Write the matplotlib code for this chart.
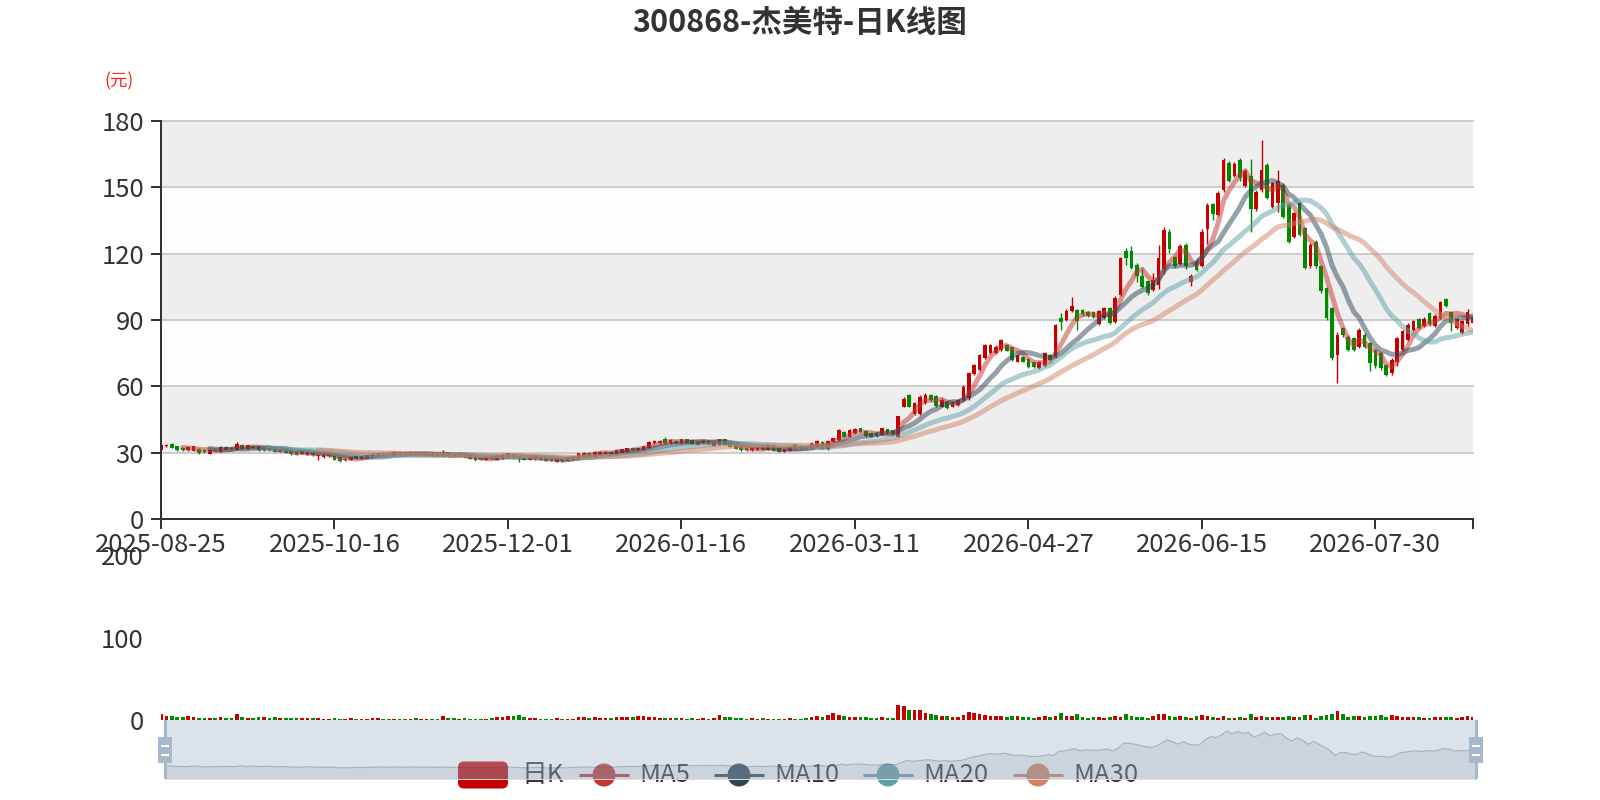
#日K线图: 蜡烛图 + 均线 + 成交量 + 底部缩放条
import matplotlib
matplotlib.use("Agg")
import matplotlib.pyplot as plt
from matplotlib.patches import FancyBboxPatch, Rectangle, Circle
import numpy as np
import pandas as pd

plt.rcParams['font.family'] = ['Noto Sans CJK SC', 'DejaVu Sans']

title = '300868-杰美特-日K线图'
y_name = '(元)'

#休市日 (用来生成交易日序列)
holidays = ['2025-10-01', '2025-10-02', '2025-10-03', '2025-10-06', '2025-10-07',
            '2025-10-08', '2026-01-01', '2026-01-02', '2026-02-16', '2026-02-17',
            '2026-02-18', '2026-02-19', '2026-02-20', '2026-02-23', '2026-04-06',
            '2026-05-01', '2026-05-04', '2026-05-05', '2026-06-19']

opens = [31.4, 33.0, 33.9, 33.0, 32.1, 31.1, 30.8, 31.8, 31.4, 29.5,
         31.4, 30.3, 32.6, 32.3, 31.4, 33.6, 31.8, 33.0, 33.0, 31.1,
         32.1, 31.8, 30.3, 31.4, 30.9, 30.3, 29.5, 29.1, 29.8, 28.3,
         28.0, 28.3, 28.5, 28.0, 26.5, 26.8, 28.3, 27.3, 27.7, 28.3,
         28.8, 29.8, 29.8, 28.8, 30.2, 30.0, 29.1, 29.8, 28.8, 28.8,
         29.5, 29.5, 28.3, 30.3, 29.5, 28.8, 29.5, 29.1, 28.0, 27.7,
         26.8, 28.3, 26.8, 27.5, 28.0, 29.4, 28.2, 27.4, 26.7, 27.0,
         28.2, 27.9, 27.4, 25.9, 27.1, 26.4, 26.7, 27.1, 28.2, 30.0,
         28.2, 29.0, 29.5, 30.5, 29.0, 30.0, 30.5, 32.3, 31.2, 31.2,
         32.3, 34.2, 34.2, 36.0, 34.2, 35.4, 34.2, 36.0, 35.7, 33.5,
         34.2, 35.4, 33.0, 33.5, 36.0, 34.5, 33.8, 32.7, 32.3, 31.0,
         31.2, 32.7, 31.2, 33.5, 32.3, 30.5, 30.9, 33.8, 33.2, 32.7,
         32.0, 32.7, 35.0, 31.5, 35.0, 35.7, 39.5, 37.2, 38.7, 41.0,
         39.9, 38.7, 39.0, 38.0, 40.5, 40.2, 37.2, 50.8, 56.0, 47.7,
         47.4, 52.3, 56.0, 55.6, 50.8, 53.0, 50.8, 51.5, 53.8, 54.5,
         65.8, 67.3, 72.6, 74.9, 74.9, 76.4, 78.7, 77.6, 71.1, 73.4,
         72.2, 71.1, 68.1, 69.2, 74.1, 73.1, 91.0, 90.2, 94.0, 94.5,
         94.7, 93.5, 93.5, 88.2, 90.9, 95.5, 89.0, 101.5, 121.0, 121.0,
         115.0, 110.0, 107.5, 103.5, 106.0, 113.0, 130.0, 118.5, 115.5, 124.0,
         107.0, 116.5, 114.5, 131.0, 142.5, 137.5, 148.8, 161.0, 155.0, 162.5,
         150.5, 155.0, 140.0, 148.8, 160.0, 141.3, 143.0, 151.0, 142.0, 127.7,
         142.8, 131.5, 114.2, 125.5, 114.2, 104.4, 95.3, 74.0, 86.3, 82.5,
         81.7, 78.0, 83.3, 79.7, 76.5, 75.0, 69.7, 65.9, 71.2, 76.5,
         81.0, 85.5, 90.6, 87.3, 93.3, 87.3, 91.0, 99.4, 93.6, 86.5,
         84.0, 88.0, 88.8]

closes = [33.6, 33.6, 32.1, 31.1, 31.1, 32.6, 32.9, 29.8, 30.2, 31.4,
          30.8, 32.6, 31.4, 31.5, 34.1, 31.7, 33.3, 32.3, 31.1, 32.6,
          31.1, 30.3, 31.4, 30.0, 29.2, 29.1, 30.6, 30.3, 28.8, 28.8,
          29.1, 28.9, 26.8, 26.2, 27.3, 28.0, 27.3, 28.3, 28.8, 29.5,
          29.8, 29.2, 29.2, 30.2, 29.2, 29.2, 29.8, 29.1, 29.5, 29.5,
          28.5, 28.5, 29.8, 28.3, 28.3, 29.8, 28.0, 27.3, 26.5, 26.8,
          28.0, 27.3, 28.8, 29.1, 29.7, 27.9, 27.4, 26.7, 27.9, 28.5,
          26.7, 26.4, 26.4, 27.4, 26.2, 28.0, 28.2, 29.7, 30.0, 28.2,
          30.5, 30.5, 30.5, 29.0, 31.2, 31.5, 32.0, 31.2, 32.0, 33.0,
          35.0, 35.3, 35.3, 34.2, 35.7, 34.2, 36.0, 34.5, 33.9, 35.0,
          35.4, 33.9, 35.0, 36.0, 33.5, 32.7, 31.7, 31.0, 31.0, 32.3,
          32.3, 31.2, 33.5, 30.9, 30.5, 31.5, 32.7, 32.0, 32.0, 32.0,
          34.5, 35.4, 32.0, 35.4, 36.5, 40.3, 37.2, 40.3, 40.6, 39.5,
          37.5, 37.2, 37.5, 41.0, 38.7, 38.4, 46.5, 54.1, 50.8, 52.3,
          55.3, 56.3, 53.8, 51.1, 53.8, 50.0, 53.0, 53.8, 59.8, 66.1,
          69.6, 74.1, 78.7, 78.7, 77.9, 80.9, 76.1, 71.9, 74.1, 71.1,
          68.9, 68.6, 71.1, 74.9, 71.9, 87.7, 89.0, 94.0, 96.5, 89.5,
          92.5, 92.0, 91.5, 94.0, 95.5, 88.8, 100.0, 117.9, 118.0, 113.7,
          110.0, 105.0, 102.0, 108.0, 118.0, 130.5, 122.0, 114.5, 123.5, 114.5,
          110.0, 112.5, 130.0, 142.0, 138.0, 147.5, 162.5, 153.0, 160.5, 154.0,
          157.5, 140.0, 148.0, 157.9, 145.0, 151.9, 153.0, 136.8, 125.5, 138.3,
          128.5, 113.4, 124.0, 114.2, 102.9, 90.8, 72.7, 83.3, 83.3, 76.5,
          76.5, 85.5, 78.0, 70.4, 69.0, 68.2, 65.2, 71.9, 82.0, 84.8,
          87.8, 89.5, 86.5, 90.6, 88.0, 91.8, 98.2, 96.4, 88.5, 90.3,
          89.5, 93.5, 91.5]

highs = [34.0, 34.0, 34.3, 33.2, 32.4, 32.9, 33.2, 32.0, 31.6, 31.6,
         31.7, 32.8, 32.9, 32.5, 34.6, 33.9, 33.6, 33.3, 33.2, 32.8,
         32.3, 32.0, 31.6, 31.6, 31.1, 30.5, 30.8, 30.5, 30.0, 29.0,
         29.3, 29.1, 28.7, 28.2, 27.5, 28.2, 28.5, 28.5, 29.0, 29.7,
         30.0, 30.0, 30.0, 30.4, 30.4, 30.2, 30.0, 30.0, 29.7, 29.7,
         29.7, 29.7, 31.1, 30.5, 29.7, 30.0, 29.7, 29.3, 28.2, 27.9,
         28.2, 28.5, 29.0, 29.3, 29.9, 29.6, 28.4, 27.6, 28.1, 28.7,
         28.4, 28.1, 27.6, 27.6, 27.3, 28.2, 28.4, 30.0, 30.3, 30.2,
         30.7, 30.7, 30.7, 30.7, 31.4, 31.7, 32.2, 32.5, 32.2, 33.2,
         35.3, 35.6, 35.6, 36.9, 36.0, 35.6, 36.3, 36.2, 35.9, 35.2,
         35.6, 35.6, 35.2, 36.3, 36.2, 34.7, 34.0, 32.9, 32.5, 32.5,
         32.5, 32.9, 33.7, 33.7, 32.5, 31.7, 32.9, 34.0, 33.4, 32.9,
         34.7, 35.6, 35.2, 35.6, 36.8, 40.6, 39.8, 40.6, 41.0, 41.3,
         40.1, 38.9, 39.2, 41.3, 40.7, 40.4, 46.8, 55.0, 56.5, 52.8,
         56.0, 57.0, 56.5, 56.0, 54.5, 53.5, 53.5, 54.3, 60.5, 66.5,
         70.2, 74.8, 79.3, 79.3, 78.5, 81.5, 79.2, 78.0, 74.6, 73.8,
         72.6, 71.5, 71.5, 75.4, 74.5, 88.0, 93.0, 94.8, 100.6, 95.0,
         95.2, 94.0, 94.0, 94.5, 96.0, 96.0, 100.8, 118.7, 122.5, 123.5,
         116.0, 113.7, 108.0, 111.2, 124.0, 132.0, 131.0, 119.0, 124.5, 125.0,
         111.0, 118.0, 131.0, 143.0, 143.0, 148.5, 163.2, 162.0, 161.5, 163.2,
         158.5, 163.0, 148.8, 171.5, 161.0, 152.5, 158.0, 152.0, 142.8, 139.0,
         143.5, 132.0, 124.8, 126.0, 115.0, 105.0, 96.0, 84.5, 87.0, 83.0,
         82.5, 86.3, 84.0, 80.2, 77.0, 75.5, 70.2, 72.9, 82.5, 85.3,
         88.8, 90.0, 91.0, 91.2, 93.8, 92.5, 98.8, 100.0, 94.0, 91.0,
         90.0, 95.2, 92.0]

lows = [31.2, 32.6, 31.9, 30.9, 30.9, 30.9, 30.6, 29.6, 30.0, 29.3,
        30.6, 30.1, 31.2, 31.3, 31.2, 31.5, 31.6, 32.1, 30.9, 30.9,
        30.9, 30.1, 30.1, 29.8, 29.0, 28.9, 29.3, 28.9, 28.6, 26.5,
        27.8, 28.1, 26.6, 26.0, 26.3, 26.6, 27.1, 27.1, 27.5, 28.1,
        28.6, 29.0, 29.0, 28.6, 29.0, 29.0, 28.9, 28.9, 28.6, 28.6,
        28.3, 28.3, 28.1, 28.1, 28.1, 28.6, 27.8, 27.1, 26.3, 26.6,
        26.6, 27.1, 26.6, 27.3, 27.8, 27.7, 26.0, 26.5, 26.5, 26.8,
        26.5, 26.2, 26.2, 25.7, 26.0, 26.2, 26.5, 26.9, 28.0, 28.0,
        28.0, 28.8, 29.3, 28.8, 28.8, 29.8, 30.3, 31.0, 31.0, 31.0,
        32.1, 34.0, 34.0, 34.0, 34.0, 34.0, 34.0, 34.3, 33.7, 33.3,
        34.0, 33.7, 32.8, 33.3, 33.3, 32.5, 31.5, 30.8, 30.8, 30.8,
        31.0, 31.0, 31.0, 30.7, 30.3, 30.3, 30.7, 31.8, 31.8, 31.8,
        31.8, 32.5, 31.8, 31.3, 34.8, 35.5, 37.0, 37.0, 38.5, 39.3,
        37.3, 37.0, 37.3, 37.8, 38.5, 38.2, 37.0, 50.5, 50.5, 47.0,
        47.0, 52.0, 53.5, 50.8, 50.5, 49.7, 50.5, 51.2, 53.5, 54.0,
        65.3, 67.0, 72.3, 74.5, 74.5, 76.0, 75.8, 71.5, 70.8, 70.8,
        68.5, 68.2, 67.8, 68.9, 71.5, 72.8, 85.5, 89.5, 93.5, 85.6,
        92.0, 91.5, 91.0, 87.8, 90.5, 88.4, 88.5, 101.0, 115.0, 113.0,
        107.4, 104.4, 101.5, 103.0, 104.0, 111.0, 120.5, 114.0, 115.0, 113.0,
        105.5, 112.0, 114.0, 124.3, 135.3, 137.0, 148.0, 152.5, 154.5, 153.0,
        150.0, 130.0, 139.5, 148.0, 144.5, 140.5, 139.0, 136.0, 125.0, 127.0,
        128.0, 113.0, 113.5, 113.5, 102.0, 90.0, 72.0, 61.4, 82.5, 76.0,
        76.0, 77.5, 77.5, 67.0, 68.5, 67.5, 64.5, 65.2, 69.0, 76.0,
        80.5, 85.0, 86.0, 87.0, 87.5, 87.0, 90.5, 96.0, 85.0, 86.0,
        83.5, 87.5, 88.5]

volumes = [7.3, 5.3, 5.3, 4.1, 3.3, 4.5, 3.3, 2.4, 2.4, 2.4,
           2.0, 3.7, 2.4, 2.4, 7.3, 3.7, 2.4, 2.4, 3.7, 3.3,
           2.4, 3.3, 2.0, 2.0, 2.0, 2.0, 2.0, 2.4, 2.0, 2.0,
           1.6, 1.6, 2.4, 1.6, 1.2, 2.4, 1.2, 1.2, 1.2, 2.4,
           2.4, 1.2, 1.2, 1.2, 1.2, 1.2, 1.2, 2.0, 1.2, 1.2,
           1.2, 1.2, 5.3, 2.4, 2.0, 1.6, 2.0, 1.6, 1.2, 1.6,
           1.2, 2.0, 3.3, 4.1, 4.5, 4.9, 6.5, 3.3, 2.4, 2.0,
           1.6, 1.6, 1.2, 2.0, 1.2, 1.2, 1.6, 4.1, 3.3, 2.4,
           3.3, 2.4, 2.0, 2.4, 3.3, 3.3, 4.1, 3.3, 4.5, 4.9,
           4.1, 3.3, 2.4, 2.0, 2.0, 2.4, 2.0, 1.6, 2.0, 1.6,
           2.0, 1.6, 2.4, 6.5, 3.7, 3.3, 2.4, 2.0, 1.6, 2.0,
           1.6, 2.0, 1.6, 1.2, 1.6, 1.2, 2.0, 1.6, 1.2, 2.0,
           3.3, 4.9, 4.1, 6.1, 8.1, 6.5, 4.5, 4.1, 3.3, 4.1,
           3.3, 2.4, 2.4, 3.7, 2.4, 2.4, 17.9, 16.7, 12.6, 12.2,
           12.2, 9.0, 7.3, 6.5, 4.5, 4.5, 3.3, 3.7, 6.1, 9.4,
           8.1, 7.3, 6.1, 5.3, 4.9, 5.3, 3.7, 5.3, 4.5, 3.3,
           3.3, 2.4, 3.3, 4.5, 4.1, 4.5, 8.1, 5.3, 5.3, 6.9,
           4.1, 2.4, 3.3, 3.7, 2.4, 3.3, 4.5, 3.3, 7.7, 4.5,
           3.7, 3.7, 2.4, 4.5, 6.9, 6.9, 5.3, 3.7, 4.9, 4.1,
           2.8, 4.5, 6.1, 4.9, 4.1, 2.8, 4.5, 2.8, 2.4, 3.3,
           2.8, 6.9, 4.1, 4.5, 3.7, 3.3, 3.3, 3.7, 4.5, 3.3,
           3.3, 6.1, 6.1, 2.8, 4.9, 6.5, 7.3, 11.4, 6.9, 3.3,
           4.9, 4.9, 4.1, 4.9, 4.9, 5.7, 4.1, 5.7, 4.9, 4.1,
           4.1, 4.1, 3.3, 2.4, 2.4, 3.3, 3.3, 3.3, 3.3, 2.4,
           3.3, 4.9, 4.1]

ma_windows = [5, 10, 20, 30]
ma_names = ['MA5', 'MA10', 'MA20', 'MA30']
ma_colors = ['#c23531', '#2f4554', '#61a0a8', '#d48265']

UP = '#c40000'
DOWN = '#008a00'
TXT = '#333333'
FS = 18.5  #刻度/图例字号

#交易日
days = pd.bdate_range('2025-08-25', '2026-10-30')
days = days[~days.isin(pd.to_datetime(holidays))][:len(closes)]
date_labels = list(days.strftime('%Y-%m-%d'))

W, H = 1600, 800
def box(l, t, r, b):
    return [l / W, 1 - b / H, (r - l) / W, (b - t) / H]

o = np.array(opens); c = np.array(closes)
n = len(c)
x = np.arange(n)
cols = np.where(c >= o, UP, DOWN)

fig = plt.figure(figsize=(16, 8), dpi=100)

# ---- K线主图
ax = fig.add_axes(box(161, 121, 1473, 519))
ax.set_xlim(0, n - 1)
ax.set_ylim(0, 180)
for k, lo in enumerate(range(0, 180, 30)):
    ax.axhspan(lo, lo + 30, color='#fdfdfd' if k % 2 == 0 else '#eeeeee', lw=0, zorder=0)
for v in range(30, 181, 30):
    ax.axhline(v, color='#cccccc', lw=1.4, zorder=0.5, clip_on=False)

ax.vlines(x, lows, highs, colors=cols, lw=1.0, zorder=2)
ax.bar(x, np.maximum(np.abs(c - o), 0.25), bottom=np.minimum(o, c), width=0.68,
       color=cols, lw=0, zorder=2)

s = pd.Series(closes)
for w, col in zip(ma_windows, ma_colors):
    ax.plot(x, s.rolling(w).mean(), color=col, lw=3.6, alpha=0.5, zorder=3,
            solid_capstyle='round', solid_joinstyle='round')

for sp in ['top', 'right']:
    ax.spines[sp].set_visible(False)
for sp in ['left', 'bottom']:
    ax.spines[sp].set_color(TXT)
    ax.spines[sp].set_linewidth(1.44)
    ax.spines[sp].set_zorder(4)

ax.set_yticks(range(0, 181, 30))
ax.tick_params(axis='y', length=7.2, width=1.44, color=TXT, labelsize=FS,
               labelcolor=TXT, pad=5)
xt = list(range(0, n, 32)) + [n - 1]
ax.set_xticks(xt)
ax.set_xticklabels([date_labels[i] for i in range(0, n, 32)] + [''])
ax.tick_params(axis='x', length=7.2, width=1.44, color=TXT, labelsize=FS,
               labelcolor=TXT, pad=2)

fig.text(119 / W, 1 - 81 / H, y_name, color='#ff2020', fontsize=12.5,
         ha='center', va='center')
fig.text(0.5, 1 - 23 / H, title, ha='center', va='center', fontsize=22,
         fontweight='bold', color=TXT)

# ---- 成交量
vax = fig.add_axes(box(161, 555, 1473, 720))
vax.bar(x, volumes, width=0.68, color=cols, lw=0)
vax.set_xlim(0, n - 1)
vax.set_ylim(0, 200)
vax.set_facecolor('none')
for sp in vax.spines.values():
    sp.set_visible(False)
vax.set_xticks([])
vax.set_yticks([0, 100, 200])
vax.tick_params(axis='y', length=0, labelsize=FS, labelcolor=TXT, pad=12.5)

# ---- 图例 (被缩放条半透明覆盖)
lax = fig.add_axes([0, 0, 1, 1], zorder=1)
lax.set_xlim(0, W)
lax.set_ylim(H, 0)
lax.axis('off')
ly = 775
lax.add_patch(FancyBboxPatch((458, ly - 13.5), 50, 27,
                             boxstyle='round,pad=0,rounding_size=6', fc=UP, ec='none'))
lax.text(521, ly, '日K', ha='left', va='center', fontsize=FS, color=TXT)
for x0, name, col in zip([579, 714, 863, 1013], ma_names, ma_colors):
    lax.plot([x0, x0 + 50], [ly, ly], color=col, lw=2.2, solid_capstyle='butt')
    lax.add_patch(Circle((x0 + 25, ly), 11.5, fc=col, ec='none'))
    lax.text(x0 + 60, ly, name, ha='left', va='center', fontsize=FS, color=TXT)

# ---- 数据缩放条
sax = fig.add_axes(box(165, 720, 1476, 779), zorder=5)
sax.set_facecolor((167 / 255, 183 / 255, 204 / 255, 0.4))
lo_c, hi_c = c.min(), c.max()
padv = (hi_c - lo_c) * 0.3
sax.set_xlim(0, n - 1)
sax.set_ylim(lo_c - padv, hi_c + padv)
shadow = (47 / 255, 69 / 255, 84 / 255)
sax.fill_between(x, c, lo_c - padv, color=shadow, alpha=0.09, lw=0)
sax.plot(x, c, color=shadow, alpha=0.3, lw=0.8)
sax.set_xticks([])
sax.set_yticks([])
for sp in sax.spines.values():
    sp.set_color('#dddddd')
    sp.set_linewidth(0.7)

hax = fig.add_axes([0, 0, 1, 1], zorder=6)
hax.set_xlim(0, W)
hax.set_ylim(H, 0)
hax.axis('off')
for hx in (165, 1476):
    hax.add_patch(Rectangle((hx - 1.5, 720), 3, 59, fc='#a7b7cc', ec='none'))
    hax.add_patch(Rectangle((hx - 7, 737), 14, 26, fc='#a7b7cc', ec='none'))
    hax.add_patch(Rectangle((hx - 4, 744.5), 8, 2, fc='white', ec='none'))
    hax.add_patch(Rectangle((hx - 4, 753.5), 8, 2, fc='white', ec='none'))

fig.savefig('out.png', dpi=100)
